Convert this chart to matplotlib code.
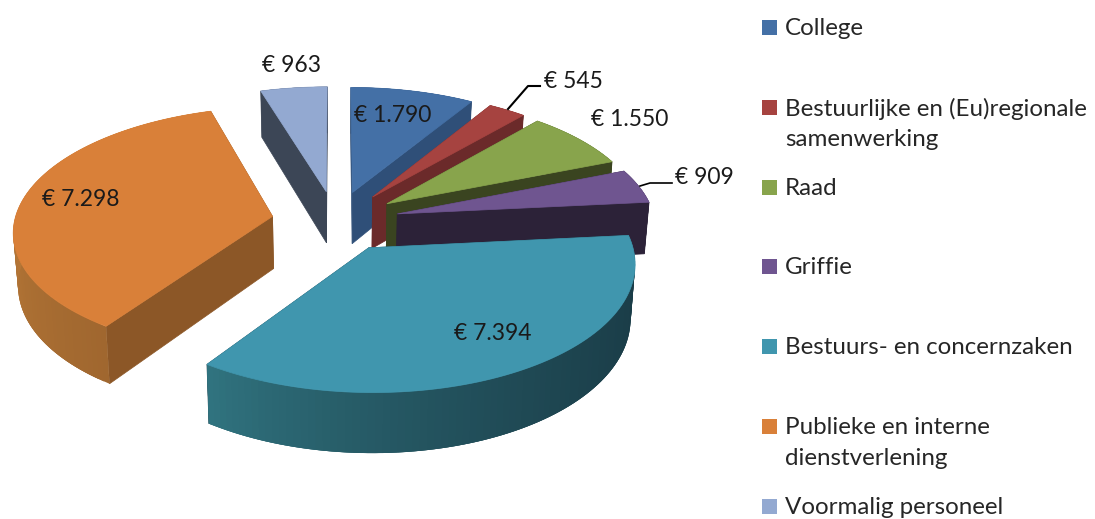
import numpy as np
import matplotlib
matplotlib.use('Agg')
import matplotlib.pyplot as plt
from matplotlib.colors import to_rgb
from matplotlib.patches import Polygon, Rectangle

plt.rcParams['font.family'] = ['Lato', 'DejaVu Sans']

# data
categories = ['College', 'Bestuurlijke en (Eu)regionale\nsamenwerking', 'Raad', 'Griffie',
              'Bestuurs- en concernzaken', 'Publieke en interne\ndienstverlening', 'Voormalig personeel']
values = [1790, 545, 1550, 909, 7394, 7298, 963]

top_colors = ['#4470a6', '#a64340', '#88a44c', '#6f5590', '#4096ae', '#d98039', '#93a9d1']
side_colors = ['#2f4f78', '#6b2a2a', '#3a4420', '#2c2238', '#1a3c47', '#8c5727', '#3c4656']
rim_start = ['#2f4f78', '#6b2a2a', '#3a4420', '#2c2238', '#1a3c47', '#a0672f', '#3c4656']
rim_end = ['#2f4f78', '#6b2a2a', '#3a4420', '#2c2238', '#30737f', '#d08a40', '#3c4656']

# label positions in pixels
label_pos = [(393, 115), (573, 81), (630, 120), (704, 178), (493, 334), (81, 200), (291, 66)]
legend_y = [27, 107, 187, 266, 346, 426, 506]

# projection of the tilted pie
cx, cy = 335.5, 221.0
Rx, A = 258.0, 122.5
k = 0.11
H = 52.5
explode = 0.248


def project(px, pu, low=False):
    d = 1 + k * pu
    x = Rx * px / d
    y = -A * pu / d
    if low:
        return cx + x * 0.985, cy + y + H / d
    return cx + x, cy + y


def poly(ax, xs, ys, color, lw=0.5):
    ax.add_patch(Polygon(np.column_stack([xs, ys]), closed=True, facecolor=color,
                         edgecolor=color if lw else 'none', linewidth=lw))


fig = plt.figure(figsize=(10.95, 5.19), dpi=100)
ax = fig.add_axes([0, 0, 1, 1])
ax.set_xlim(0, 1095)
ax.set_ylim(519, 0)
ax.axis('off')

vals = np.array(values, dtype=float)
edges = np.concatenate([[0], np.cumsum(vals)]) / vals.sum() * 2 * np.pi

# back slices first, teal is in front of everything
for i in [6, 0, 1, 2, 3, 5, 4]:
    a0, a1 = edges[i], edges[i + 1]
    mid = (a0 + a1) / 2
    ox, ou = explode * np.sin(mid), explode * np.cos(mid)
    th = np.linspace(a0, a1, 90)
    px = ox + np.sin(th)
    pu = ou + np.cos(th)

    # radial walls
    for a in (a0, a1):
        ex, eu = ox + np.sin(a), ou + np.cos(a)
        t0 = project(ox, ou)
        t1 = project(ex, eu)
        b1 = project(ex, eu, True)
        b0 = project(ox, ou, True)
        poly(ax, [t0[0], t1[0], b1[0], b0[0]], [t0[1], t1[1], b1[1], b0[1]], side_colors[i])

    # outer wall, in strips for the shading; each strip overlaps the next one
    c0, c1 = np.array(to_rgb(rim_start[i])), np.array(to_rgb(rim_end[i]))
    xt, yt = project(px, pu)
    xb, yb = project(px, pu, True)
    for j in range(len(th) - 1):
        f = (j / (len(th) - 2)) ** 2 if i == 4 else j / (len(th) - 2)
        col = tuple(c0 + (c1 - c0) * f)
        e = min(j + 3, len(th) - 1)
        poly(ax, [xt[j], xt[e], xb[e], xb[j]], [yt[j], yt[e], yb[e], yb[j]], col, lw=0)

    # top face
    ax0, ay0 = project(ox, ou)
    poly(ax, np.append(xt, ax0), np.append(yt, ay0), top_colors[i])

# data labels
for v, (x, y) in zip(values, label_pos):
    txt = '€ ' + f'{v:,}'.replace(',', '.')
    ax.text(x, y, txt, fontsize=16.5, color='#1a1a1a', ha='center', va='center')

# leader lines
ax.plot([508, 528, 540], [109, 86, 86], color='black', lw=1.5)
ax.plot([640, 650, 672], [186, 183, 183], color='black', lw=1.2)

# legend
for name, col, y in zip(categories, top_colors, legend_y):
    ax.add_patch(Rectangle((762, y - 7), 15, 15, facecolor=col, edgecolor='none'))
    lines = name.split('\n')
    for n, line in enumerate(lines):
        ax.text(785, y + 1.5 + n * 31, line, fontsize=17.4, color='#262626', ha='left', va='center')

plt.savefig('out.png', dpi=100)
